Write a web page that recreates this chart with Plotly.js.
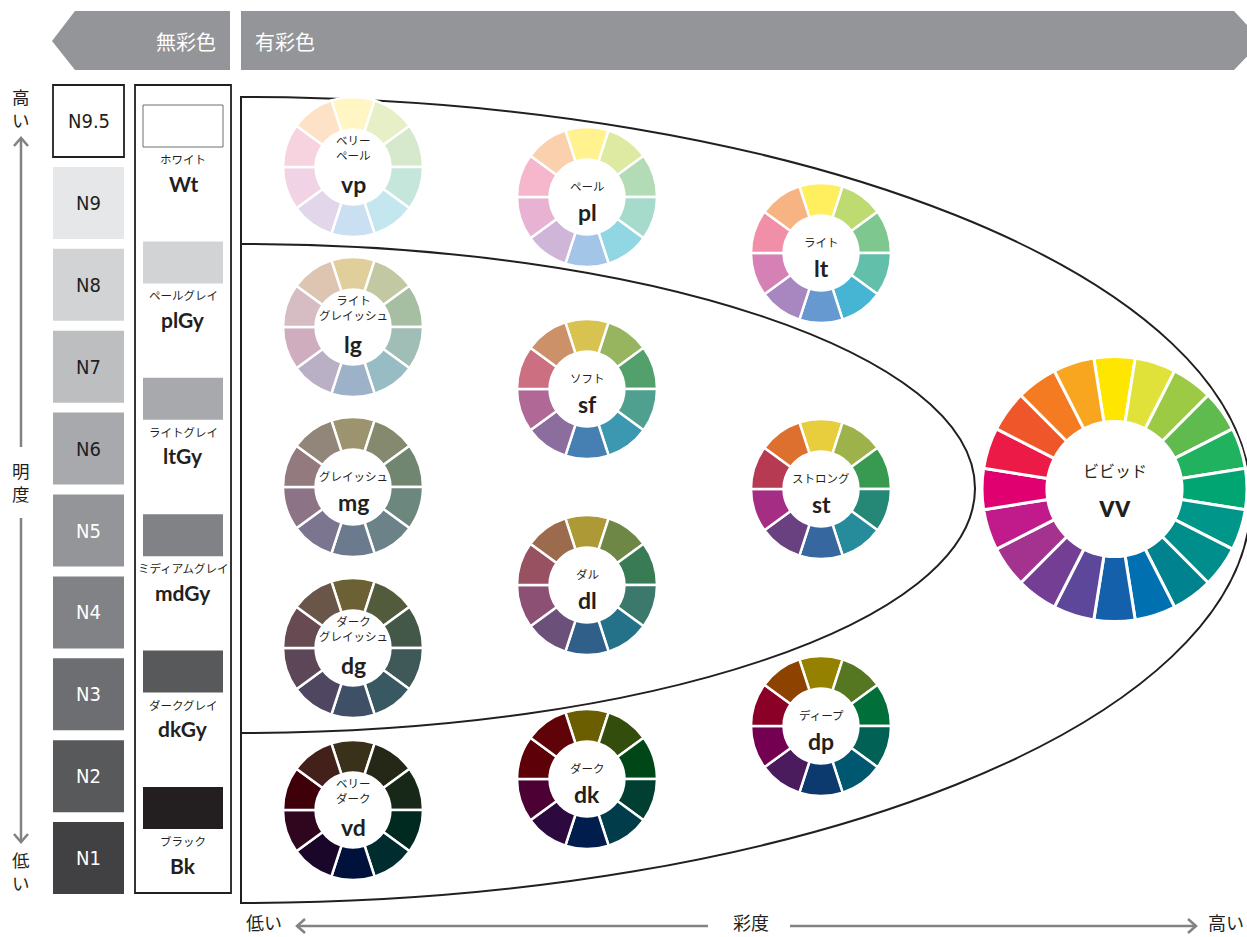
<!DOCTYPE html>
<html>
<head>
<meta charset="utf-8">
<script src="https://cdn.plot.ly/plotly-3.0.1.min.js"></script>
<style>html,body{margin:0;padding:0;background:#fff;}#chart{width:1247px;height:937px;}</style>
</head>
<body>
<div id="chart"></div>
<script>
// ---------------- DATA ----------------
const nLabels = ['N9.5','N9','N8','N7','N6','N5','N4','N3','N2','N1'];
const nFills = ['#ffffff','#e6e7e8','#d1d3d4','#bcbec0','#a7a9ac','#939598','#808285','#6d6e71','#58595b','#414042'];

const grayNames = ['ホワイト','ペールグレイ','ライトグレイ','ミディアムグレイ','ダークグレイ','ブラック'];
const grayCodes = ['Wt','plGy','ltGy','mdGy','dkGy','Bk'];
const grayFills = ['#ffffff','#d1d3d4','#a7a9ac','#808285','#58595b','#231f20'];

const toneCodes = ['vp','pl','lt','lg','sf','mg','st','dl','dg','dp','vd','dk','vv'];
const toneNames = ['ベリー<br>ペール','ペール','ライト','ライト<br>グレイッシュ','ソフト','グレイッシュ','ストロング','ダル','ダーク<br>グレイッシュ','ディープ','ベリー<br>ダーク','ダーク','ビビッド'];

// hue segments, clockwise from the top (yellow)
const vpColors = ['#fff6c4','#e7efc6','#d6e9cc','#c5e6da','#c3e6ef','#cadff2','#e2d7ea','#f0d3e4','#f7d3e0','#fde2c8'];
const plColors = ['#fff28f','#dee9a1','#b3dcb6','#a6dbcc','#91d6e3','#a3c6e8','#cfb5d7','#e8b3d3','#f6b6cb','#fbd0ac'];
const ltColors = ['#ffee5e','#bedb72','#7ec78f','#62bfaa','#45b5d3','#6799d1','#a886bf','#d581b6','#f18fa9','#f8b383'];
const lgColors = ['#e0cf9b','#c2c8a2','#a6bfa2','#a1beb6','#98bcc4','#9db2c8','#bab0c6','#cfadbf','#d6bdc3','#ddc5b1'];
const sfColors = ['#d8c350','#97b45e','#52a06c','#4fa08f','#3b98b0','#4680b2','#8b6d9e','#b06896','#cb6f81','#cd916a'];
const mgColors = ['#9c946f','#858a6f','#718670','#6c877e','#6b8288','#6b7a8c','#7b7590','#8c7386','#937a7f','#918679'];
const stColors = ['#e8ce3c','#9db24b','#389a50','#258876','#268b9b','#36679e','#6a4180','#a52d83','#b53a52','#de702f'];
const dlColors = ['#ad9a36','#6e8746','#397b54','#3a796c','#247289','#305f8a','#6b507a','#8b5073','#975160','#9c6b4d'];
const dgColors = ['#6c6035','#535b3d','#44584a','#3e5957','#385862','#3f5066','#4f4762','#5d4658','#684a52','#6a5648'];
const dpColors = ['#948100','#557722','#006f3a','#006154','#005770','#0d3a6e','#4a1b5d','#740052','#8b0027','#8e4200'];
const vdColors = ['#3a311a','#252817','#172818','#00291f','#002b2f','#00113c','#1a0629','#30061f','#3f000a','#43211a'];
const dkColors = ['#6a5e00','#334e0c','#004718','#003f31','#003c4a','#001d4e','#2c0a3f','#4c0033','#5e0008','#600308'];
const vvColors = ['#ffe600','#e0e23a','#9dca44','#5fbb4e','#21b25f','#00a571','#00968a','#008e8c','#00838f','#0070b0',
                  '#1460ab','#5c479b','#743e94','#a3338f','#c11b8b','#e0006f','#ec1a47','#ef572b','#f47b22','#f8a51f'];

const segValues10 = [1,1,1,1,1,1,1,1,1,1];
const segValues20 = [1,1,1,1,1,1,1,1,1,1,1,1,1,1,1,1,1,1,1,1];

const toneColors = {vp:vpColors,pl:plColors,lt:ltColors,lg:lgColors,sf:sfColors,mg:mgColors,st:stColors,
                    dl:dlColors,dg:dgColors,dp:dpColors,vd:vdColors,dk:dkColors,vv:vvColors};
const toneValues = {vp:segValues10,pl:segValues10,lt:segValues10,lg:segValues10,sf:segValues10,mg:segValues10,
                    st:segValues10,dl:segValues10,dg:segValues10,dp:segValues10,vd:segValues10,dk:segValues10,vv:segValues20};

// ---------------- LAYOUT ----------------
const W = 1247, H = 937;
const wheelPos = { // cx, cy, r (pixels)
  vp:[353,167,70], pl:[587,197,70], lt:[821,253,70],
  lg:[353,327,70], sf:[587,389,70], mg:[353,487,70],
  st:[821,489,70], dl:[587,585,70], dg:[353,648,70],
  dp:[821,726,70], vd:[353,810,70], dk:[587,779,70],
  vv:[1115,489,133]
};

const INK = '#231f20';
const JP = '"Noto Sans CJK JP", "Noto Sans", sans-serif';
const LATIN = 'Lato, "Noto Sans", sans-serif';
const NARROW = '"DejaVu Sans Condensed", "Liberation Sans Narrow", "Roboto Condensed", sans-serif';

const traces = [{type:'scatter', x:[], y:[], hoverinfo:'skip', showlegend:false}];
const shapes = [];
const annotations = [];

function ann(x, y, text, size, color, family, extra) {
  annotations.push(Object.assign({x:x, y:y, xref:'x', yref:'y', text:text, showarrow:false,
    font:{size:size, color:color, family:family}, xanchor:'center', yanchor:'middle'}, extra||{}));
}

// Top banner
shapes.push({type:'path', xref:'x', yref:'y', layer:'below', path:'M52,41 L75,11 L230,11 L230,70 L75,70 Z', fillcolor:'#939598', line:{width:0}});
shapes.push({type:'path', xref:'x', yref:'y', layer:'below', path:'M241,11 L1234,11 L1262,41 L1234,70 L241,70 Z', fillcolor:'#939598', line:{width:0}});
ann(186, 41, '無彩色', 20, '#ffffff', JP);
ann(253, 41, '有彩色', 20, '#ffffff', JP, {xanchor:'left'});

// Left lightness axis
const axisGray = '#808285';
shapes.push({type:'path', xref:'x', yref:'y', layer:'below', path:'M21,138 L21,447', line:{color:axisGray, width:2.5}});
shapes.push({type:'path', xref:'x', yref:'y', layer:'below', path:'M14,146 L21,138 L28,146', line:{color:axisGray, width:2.5}});
shapes.push({type:'path', xref:'x', yref:'y', layer:'below', path:'M21,518 L21,842', line:{color:axisGray, width:2.5}});
shapes.push({type:'path', xref:'x', yref:'y', layer:'below', path:'M14,834 L21,842 L28,834', line:{color:axisGray, width:2.5}});
ann(21, 108, '高<br>い', 17.5, INK, JP);
ann(21, 482, '明<br>度', 17.5, INK, JP);
ann(21, 871, '低<br>い', 17.5, INK, JP);

// Bottom chroma axis
shapes.push({type:'path', xref:'x', yref:'y', layer:'below', path:'M297,926 L708,926', line:{color:axisGray, width:2.5}});
shapes.push({type:'path', xref:'x', yref:'y', layer:'below', path:'M305,919 L297,926 L305,933', line:{color:axisGray, width:2.5}});
shapes.push({type:'path', xref:'x', yref:'y', layer:'below', path:'M790,926 L1196,926', line:{color:axisGray, width:2.5}});
shapes.push({type:'path', xref:'x', yref:'y', layer:'below', path:'M1188,919 L1196,926 L1188,933', line:{color:axisGray, width:2.5}});
ann(264, 937, '低い', 18, INK, JP, {yanchor:'bottom', yshift:0});
ann(751, 937, '彩度', 18, INK, JP, {yanchor:'bottom'});
ann(1226, 937, '高い', 18, INK, JP, {yanchor:'bottom'});

// N column
const nTop = 85, nStep = 81.9, nH = 72;
nLabels.forEach((lab, i) => {
  const y0 = nTop + i*nStep;
  shapes.push({type:'rect', xref:'x', yref:'y', layer:'below', x0:53, x1:124, y0:y0, y1:y0+nH,
    fillcolor:nFills[i], line:{color: i===0 ? INK : nFills[i], width: i===0 ? 1.8 : 0}});
  ann(88.5, y0+nH/2, lab, 20, i < 5 ? INK : '#ffffff', NARROW);
});

// Gray names column
shapes.push({type:'rect', xref:'x', yref:'y', layer:'below', x0:135, x1:231, y0:85, y1:893, fillcolor:'rgba(0,0,0,0)', line:{color:INK, width:1.8}});
const gTop = 105, gStep = 136.4, gH = 42;
grayCodes.forEach((code, i) => {
  const y0 = gTop + i*gStep;
  shapes.push({type:'rect', xref:'x', yref:'y', layer:'below', x0:143, x1:223, y0:y0, y1:y0+gH,
    fillcolor:grayFills[i], line:{color: i===0 ? '#6d6e71' : grayFills[i], width: i===0 ? 1 : 0}});
  ann(183, y0+gH+12, grayNames[i], 11.5, INK, JP);
  ann(183, y0+gH+36, '<b>'+code+'</b>', 21, INK, LATIN);
});

// Tone region outlines (half ellipses)
function halfEllipse(x0, cy, rx, ry) {
  const k = 0.5523;
  return 'M'+x0+','+(cy-ry)+
    ' C'+(x0+k*rx)+','+(cy-ry)+' '+(x0+rx)+','+(cy-k*ry)+' '+(x0+rx)+','+cy+
    ' C'+(x0+rx)+','+(cy+k*ry)+' '+(x0+k*rx)+','+(cy+ry)+' '+x0+','+(cy+ry)+' Z';
}
shapes.push({type:'path', xref:'x', yref:'y', layer:'below', path:halfEllipse(241, 500, 1010, 403), fillcolor:'rgba(0,0,0,0)', line:{color:INK, width:2}});
shapes.push({type:'path', xref:'x', yref:'y', layer:'below', path:halfEllipse(241, 488.5, 734, 244.5), fillcolor:'rgba(0,0,0,0)', line:{color:INK, width:2}});

// Tone wheels
toneCodes.forEach((code, i) => {
  const [cx, cy, r] = wheelPos[code];
  const vals = toneValues[code];
  const n = vals.length;
  traces.push({
    type:'pie', values: vals, sort:false, direction:'clockwise', rotation: -180/n,
    hole: code === 'vv' ? 0.51 : 0.535,
    marker:{colors: toneColors[code], line:{color:'#ffffff', width: code === 'vv' ? 3 : 2.5}},
    textinfo:'none', hoverinfo:'skip', showlegend:false,
    domain:{x:[(cx-r)/W, (cx+r)/W], y:[1-(cy+r)/H, 1-(cy-r)/H]}
  });
  const name = toneNames[i];
  const twoLine = name.indexOf('<br>') >= 0;
  if (code === 'vv') {
    ann(cx, cy-19, name, 16, INK, JP);
    ann(cx, cy+16, '<b>'+code+'</b>', 30, INK, LATIN);
  } else if (twoLine) {
    ann(cx, cy-20, name, 11.5, INK, JP, {yanchor:'middle'});
    ann(cx, cy+17, '<b>'+code+'</b>', 23, INK, LATIN);
  } else {
    ann(cx, cy-11, name, 11.5, INK, JP);
    ann(cx, cy+15, '<b>'+code+'</b>', 23, INK, LATIN);
  }
});

const layout = {
  width: W, height: H,
  margin:{l:0, r:0, t:0, b:0, pad:0},
  paper_bgcolor:'#ffffff', plot_bgcolor:'rgba(0,0,0,0)',
  xaxis:{range:[0,W], visible:false, fixedrange:true},
  yaxis:{range:[H,0], visible:false, fixedrange:true},
  showlegend:false,
  shapes: shapes,
  annotations: annotations
};
Plotly.newPlot('chart', traces, layout, {staticPlot:true, displayModeBar:false});
</script>
</body>
</html>
